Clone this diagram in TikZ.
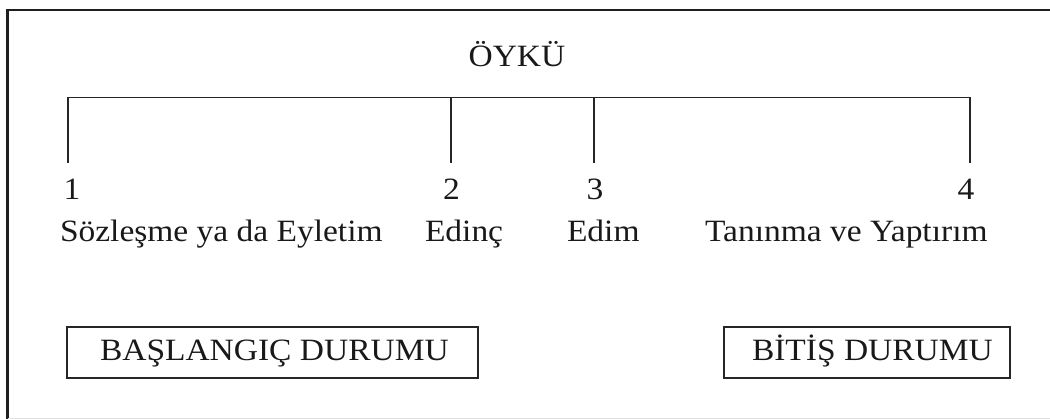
\documentclass[tikz,border=0pt]{standalone}
\usepackage{fontspec}
\setmainfont[FakeStretch=1.08]{Liberation Serif}
\begin{document}
\begin{tikzpicture}[x=1pt,y=-1pt,
  txt/.style={inner sep=0pt, outer sep=0pt, font=\fontsize{31}{37}\selectfont, text=black!90},
  framel/.style={line width=2.8pt, black!88},
  barl/.style={line width=1.7pt, black!85},
  boxl/.style={draw=black!85, line width=2.2pt, inner sep=0pt, fill=none}]
\useasboundingbox (0,0) rectangle (1050,419);
% frame
\coordinate (fTR) at (1050,10);
\coordinate (fTL) at (7.5,10);
\coordinate (fBL) at (7.5,419);
\draw[framel] (fTR) -- (fTL) -- (fBL);
\coordinate (gL) at (7.5,418.3);
\coordinate (gR) at (1050,418.3);
\draw[black!12, line width=1pt] (gL) -- (gR);
% title
\node[txt, anchor=base] (title) at (517,67) {ÖYKÜ};
% bracket
\coordinate (b1) at (68,97.5);
\coordinate (b2) at (451,97.5);
\coordinate (b3) at (594,97.5);
\coordinate (b4) at (970,97.5);
\coordinate (t1) at (68,163);
\coordinate (t2) at (451,163);
\coordinate (t3) at (594,163);
\coordinate (t4) at (970,163);
\draw[barl] (t1) -- (b1) -- (b4) -- (t4);
\draw[barl] (b2) -- (t2);
\draw[barl] (b3) -- (t3);
% numbers
\node[txt, anchor=base] (n1) at (72,200) {1};
\node[txt, anchor=base] (n2) at (451.5,200) {2};
\node[txt, anchor=base] (n3) at (595,200) {3};
\node[txt, anchor=base] (n4) at (966,200) {4};
% labels
\node[txt, anchor=base west] (l1) at (60,242) {Sözleşme ya da Eyletim};
\node[txt, anchor=base west] (l2) at (425,242) {Edinç};
\node[txt, anchor=base west] (l3) at (567,242) {Edim};
\node[txt, anchor=base west] (l4) at (705,242) {Tanınma ve Yaptırım};
% boxes
\node[boxl, draw, anchor=north west, minimum width=411pt, minimum height=51pt] (bx1) at (66,326) {};
\node[txt, anchor=base west] (bt1) at (100,361) {BAŞLANGIÇ DURUMU};
\node[boxl, draw, anchor=north west, minimum width=286pt, minimum height=51pt] (bx2) at (723,326) {};
\node[txt, anchor=base west] (bt2) at (752,361) {BİTİŞ DURUMU};
\end{tikzpicture}
\end{document}
